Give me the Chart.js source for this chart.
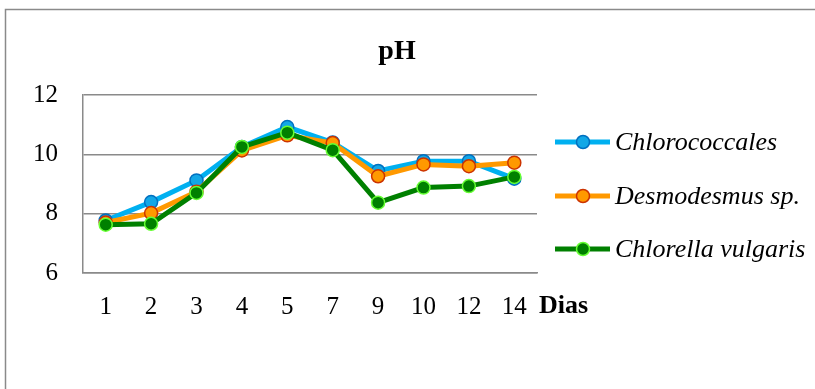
<!DOCTYPE html>
<html>
<head>
<meta charset="utf-8">
<script src="https://cdn.jsdelivr.net/npm/chart.js@4/dist/chart.umd.min.js"></script>
<style>
html,body{margin:0;padding:0;background:#fff;overflow:hidden;}
#wrap{width:815px;height:389px;position:relative;}
</style>
</head>
<body>
<div id="wrap"><canvas id="c" width="815" height="389"></canvas></div>
<script>
const days = ['1','2','3','4','5','7','9','10','12','14'];
const chlorococcales = [7.77, 8.39, 9.12, 10.25, 10.92, 10.40, 9.44, 9.77, 9.77, 9.18];
const desmodesmus = [7.70, 8.02, 8.74, 10.13, 10.64, 10.38, 9.26, 9.66, 9.60, 9.72];
const chlorella = [7.63, 7.66, 8.70, 10.25, 10.73, 10.14, 8.37, 8.88, 8.93, 9.24];
const seriesNames = ['Chlorococcales', 'Desmodesmus sp.', 'Chlorella vulgaris'];
const yTicks = [6, 8, 10, 12];
const chartTitle = 'pH';
const xAxisTitle = 'Dias';

const FONT = '"Liberation Serif", "Times New Roman", serif';

const styles = [
  {line:'#00B0F0', fill:'#12A7E6', border:'#0070C0'},
  {line:'#FF9900', fill:'#FF9900', border:'#CC3300'},
  {line:'#008000', fill:'#008000', border:'#66FF33'}
];
const seriesData = [chlorococcales, desmodesmus, chlorella];

const datasets = seriesData.map((d, i) => ({
  label: seriesNames[i],
  data: d,
  borderColor: styles[i].line,
  backgroundColor: styles[i].fill,
  borderWidth: 5,
  pointRadius: 6.5,
  pointHoverRadius: 6.5,
  pointBackgroundColor: styles[i].fill,
  pointBorderColor: styles[i].border,
  pointBorderWidth: 1.5,
  tension: 0,
  order: 3 - i
}));

const decor = {
  id: 'decor',
  afterDraw(chart) {
    const ctx = chart.ctx;
    ctx.save();
    // outer frame (only left and top edges fall inside the canvas)
    ctx.strokeStyle = '#8a8a8a';
    ctx.lineWidth = 1.5;
    ctx.beginPath();
    ctx.moveTo(5.5, 400);
    ctx.lineTo(5.5, 9.5);
    ctx.lineTo(815, 9.5);
    ctx.stroke();
    // title
    ctx.fillStyle = '#000';
    ctx.font = 'bold 28px ' + FONT;
    ctx.textAlign = 'center';
    ctx.textBaseline = 'alphabetic';
    ctx.fillText(chartTitle, 397, 59);
    // x axis title
    ctx.textAlign = 'left';
    ctx.font = 'bold 26px ' + FONT;
    ctx.fillText(xAxisTitle, 539, 313);
    // legend
    const ys = [142, 196, 249];
    chart.data.datasets.forEach((ds, i) => {
      const y = ys[i];
      ctx.strokeStyle = ds.borderColor;
      ctx.lineWidth = 5;
      ctx.lineCap = 'butt';
      ctx.beginPath();
      ctx.moveTo(555, y);
      ctx.lineTo(610, y);
      ctx.stroke();
      ctx.beginPath();
      ctx.arc(583, y, 6.5, 0, Math.PI * 2);
      ctx.fillStyle = ds.pointBackgroundColor;
      ctx.fill();
      ctx.lineWidth = 1.5;
      ctx.strokeStyle = ds.pointBorderColor;
      ctx.stroke();
      ctx.fillStyle = '#000';
      ctx.font = 'italic 26px ' + FONT;
      ctx.textBaseline = 'middle';
      ctx.textAlign = 'left';
      ctx.fillText(ds.label, 615, y + 1);
    });
    ctx.restore();
  }
};

new Chart(document.getElementById('c'), {
  type: 'line',
  data: { labels: days, datasets: datasets },
  options: {
    responsive: false,
    animation: false,
    devicePixelRatio: 1,
    layout: { padding: { left: 0, top: 95, right: 278, bottom: 0 } },
    plugins: {
      legend: { display: false },
      title: { display: false },
      tooltip: { enabled: false }
    },
    scales: {
      x: {
        offset: true,
        grid: { display: false, drawTicks: false },
        border: { display: true, color: '#8a8a8a', width: 1.5 },
        ticks: { color: '#000', font: { family: FONT, size: 25 }, padding: 19, maxRotation: 0, autoSkip: false },
        afterFit(s) { s.height = 116; }
      },
      y: {
        min: 6, max: 12,
        afterBuildTicks(s) { s.ticks = yTicks.map(v => ({ value: v })); },
        grid: { color: '#8a8a8a', lineWidth: 1.5, drawTicks: false },
        border: { display: true, color: '#8a8a8a', width: 1.5 },
        ticks: { color: '#000', font: { family: FONT, size: 25 }, padding: 25 },
        afterFit(s) { s.width = 83; }
      }
    }
  },
  plugins: [decor]
});
</script>
</body>
</html>
